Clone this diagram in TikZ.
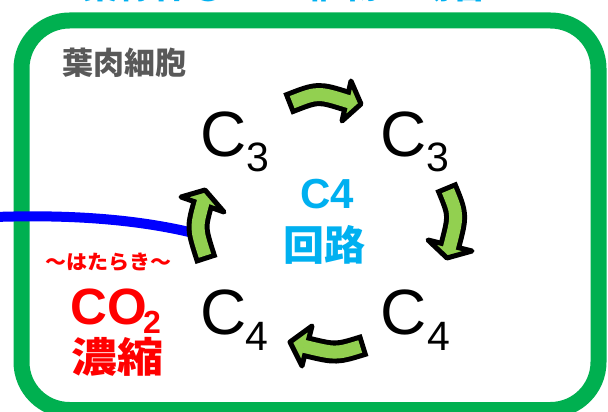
\documentclass[tikz,border=0pt]{standalone}
\usepackage{fontspec}
\usepackage{graphicx}
\setmainfont{Liberation Sans}
\newfontfamily\jp{Noto Sans CJK JP}
\definecolor{cgreen}{HTML}{00B050}
\definecolor{lgreen}{HTML}{92D050}
\definecolor{ccyan}{HTML}{00B0F0}
\definecolor{cgray}{HTML}{595959}
\newcommand\blkarrow[6]{%
  \draw[black, line width=23pt] #1 .. controls #2 .. #3;
  \filldraw[fill=lgreen, draw=black, line width=5pt, line join=round] #4 -- #5 -- #6 -- cycle;
  \draw[lgreen, line width=13pt, shorten <=5pt, shorten >=-3.5pt] #1 .. controls #2 .. #3;
}
\tikzset{
  bigC/.style={font=\fontsize{64}{64}\selectfont, inner sep=0pt, anchor=base west},
  subn/.style={font=\fontsize{41}{41}\selectfont, inner sep=0pt, anchor=base west},
  jptext/.style={inner sep=0pt, anchor=center},
}
\begin{document}
\begin{tikzpicture}[x=1pt,y=-1pt]
\useasboundingbox (0,0) rectangle (608,412);
% title (cut off at top)
\node[jptext, anchor=south, text=ccyan, font=\jp\bfseries\fontsize{36}{36}\selectfont] (title) at (285,2.5) {葉緑体①　C4植物の場合};
% cell border
\draw[cgreen, line width=16pt, rounded corners=48pt] (21.5,20.5) rectangle (598.5,410);
\node[jptext, text=cgray, font=\jp\bfseries\fontsize{31}{31}\selectfont] (cell) at (124.5,62.5) {葉肉細胞};
% blue line
\coordinate (bstart) at (-5,217);
\coordinate (bend) at (205,236);
\draw[blue, line width=10pt] (bstart) .. controls (80,214) and (150,221) .. (bend);
% labels
\node[bigC] (c1) at (200,156) {C};
\node[subn] (s1) at (246,171) {3};
\node[bigC] (c2) at (380,156) {C};
\node[subn] (s2) at (426,171) {3};
\node[bigC] (c3) at (380,334) {C};
\node[subn] (s3) at (427,350) {4};
\node[bigC] (c4) at (200,334) {C};
\node[subn] (s4) at (245,350) {4};
% arrows
\blkarrow{(287.5,104)}{(318,92)}{(346.5,101)}{(351,81)}{(361,104)}{(342,121)}
\blkarrow{(446,186)}{(458,215)}{(450,245.5)}{(472,251)}{(447,258)}{(428,240)}
\blkarrow{(365,345)}{(336,354)}{(307,347)}{(302,366)}{(290,342)}{(312,326)}
\blkarrow{(206.5,260.5)}{(196,228)}{(202.5,204.5)}{(181,197)}{(205,190)}{(224,212)}
% centre text
\node[inner sep=0pt, anchor=base west, text=ccyan, font=\bfseries\fontsize{42}{42}\selectfont] (c4path) at (300,208) {C4};
\node[jptext, text=ccyan, font=\jp\bfseries\fontsize{41}{41}\selectfont] (kairo) at (324.5,245) {回路};
% left red text
\node[jptext, text=red, font=\jp\bfseries\fontsize{20}{20}\selectfont] (hataraki) at (108.5,262.5) {\scalebox{1.05}[1]{〜はたらき〜}};
\node[inner sep=0pt, anchor=base west, text=red, font=\bfseries\fontsize{51}{51}\selectfont] (co) at (70.5,324) {CO};
\node[inner sep=0pt, anchor=base west, text=red, font=\bfseries\fontsize{32}{32}\selectfont] (two) at (143,333) {2};
\node[jptext, text=red, font=\jp\bfseries\fontsize{41}{41}\selectfont] (noshuku) at (117,357) {\scalebox{1.12}[1]{濃縮}};
\end{tikzpicture}
\end{document}
